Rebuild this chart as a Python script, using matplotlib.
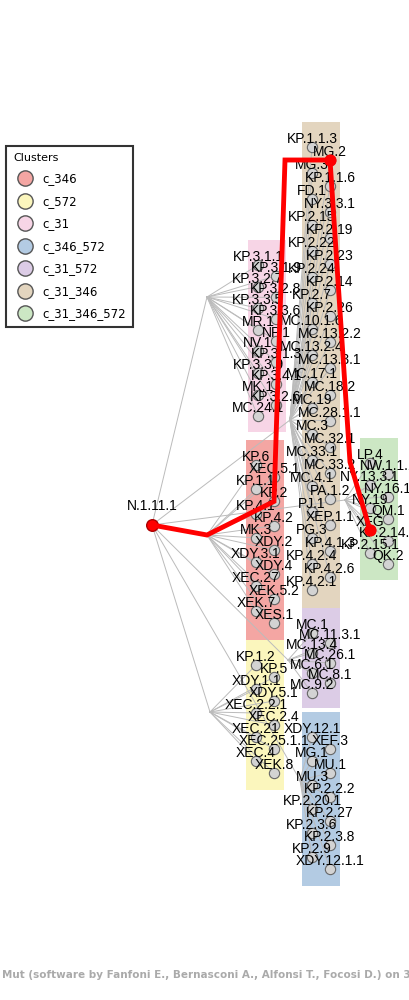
import matplotlib.pyplot as plt
from matplotlib.patches import Rectangle
from matplotlib.lines import Line2D

W, H = 410, 1000

cluster_names = ["c_346", "c_572", "c_31", "c_346_572", "c_31_572", "c_31_346", "c_31_346_572"]
cluster_colors = ["#f4a6a3", "#fbf6bd", "#f7d5e6", "#b3cbe3", "#dccce6", "#e3d5bf", "#cce7c4"]

tan_nodes = ["KP.1.1.3", "MG.2", "MG.3", "KP.1.1.6", "FD.1", "NY.3.3.1", "KP.2.15", "KP.2.19",
             "KP.2.22", "KP.2.23", "KP.2.24", "KP.2.14", "KP.2.7", "KP.2.26", "MC.10.1.6",
             "MC.13.2.2", "MC.13.2.4", "MC.13.3.1", "MC.17.1", "MC.18.2", "MC.19", "MC.28.1.1",
             "MC.3", "MC.32.1", "MC.33.1", "MC.33.2", "MC.4.1", "PA.1.2", "PJ.1", "XEP.1.1",
             "PG.3", "KP.4.1.3", "KP.4.2.4", "KP.4.2.6", "KP.4.2.1"]
pink_nodes = ["KP.3.1.1", "KP.3.1.9", "KP.3.2.7", "KP.3.2.8", "KP.3.3.5", "KP.3.3.6", "MR.1",
              "NP.1", "NV.1", "KP.3.1.3", "KP.3.3.9", "KP.3.4.1", "MK.1", "KP.3.2.6", "MC.24.1"]
red_nodes = ["KP.6", "XEC.5.1", "KP.1.1", "KP.2", "KP.4.1", "KP.4.2", "MK.3", "XDY.2",
             "XDY.3.1", "XDY.4", "XEC.27", "XEK.5.2", "XEK.7", "XES.1"]
yellow_nodes = ["KP.1.2", "KP.5", "XDY.1.1", "XDY.5.1", "XEC.2.2.1", "XEC.2.4", "XEC.21",
                "XEC.25.1.1", "XEC.4", "XEK.8"]
purple_nodes = ["MC.1", "MC.11.3.1", "MC.13.4", "MC.26.1", "MC.6.1", "MC.8.1", "MC.9.2"]
blue_nodes = ["XDY.12.1", "XEF.3", "MG.1", "MU.1", "MU.3", "KP.2.2.2", "KP.2.20.1", "KP.2.27",
              "KP.2.3.6", "KP.2.3.8", "KP.2.9", "XDY.12.1.1"]
green_nodes = ["LP.4", "NW.1.1.1", "NY.13.3.1", "NY.16.1", "NY.19", "QM.1", "XFG",
               "KP.2.14.1", "KP.2.15.1", "QK.2"]

root_label = "N.1.11.1"
path_nodes = ["KP.2", "MG.2", "XFG"]

fig = plt.figure(figsize=(W / 100, H / 100), dpi=100)
ax = fig.add_axes([0, 0, 1, 1])
ax.set_xlim(0, W)
ax.set_ylim(H, 0)
ax.axis("off")

# column layout: (nodes, colour idx, x0, y0, y1, hub)
columns = [
    (pink_nodes, 2, 248, 240, 432, (207, 297)),
    (red_nodes, 0, 246, 440, 640, (207, 535)),
    (yellow_nodes, 1, 246, 640, 790, (210, 712)),
    (tan_nodes, 5, 302, 122, 608, (290, 420)),
    (purple_nodes, 4, 302, 608, 708, (288, 660)),
    (blue_nodes, 3, 302, 712, 886, (300, 780)),
    (green_nodes, 6, 360, 438, 580, (345, 500)),
]
root = (152, 525)
pos = {}
for nodes, ci, x0, y0, y1, hub in columns:
    ax.add_patch(Rectangle((x0, y0), 38, y1 - y0, color=cluster_colors[ci], zorder=0, lw=0))
    step = (y1 - y0 - 30) / len(nodes)
    for i, n in enumerate(nodes):
        x = x0 + (10 if i % 2 == 0 else 28)
        y = y0 + 25 + i * step
        pos[n] = (x, y)
        ax.plot([hub[0], x], [hub[1], y], color="#bbbbbb", lw=0.7, zorder=1)
    ax.plot([root[0], hub[0]], [root[1], hub[1]], color="#bbbbbb", lw=0.7, zorder=1)

for n, (x, y) in pos.items():
    ax.scatter(x, y, s=55, color="#d3d3d3", edgecolor="#666666", lw=0.8, zorder=3)
    ax.text(x, y - 8, n, fontsize=10, ha="center", va="center", zorder=4,
            family="Liberation Sans")

ax.scatter(*root, s=70, color="red", edgecolor="#aa0000", zorder=5)
ax.text(root[0], root[1] - 15, root_label, fontsize=10, ha="center", family="Liberation Sans")

# red path: root -> hub -> KP.2 -> bend -> MG.2 -> bend -> XFG
red_hub = columns[1][5]
p_kp2, p_mg2, p_xfg = (pos[n] for n in path_nodes)
px = [root[0], red_hub[0], p_kp2[0], 285, p_mg2[0], 350, p_xfg[0]]
py = [root[1], red_hub[1], p_kp2[1], 160, p_mg2[1], 462, p_xfg[1]]
ax.plot(px, py, color="red", lw=3.5, zorder=6, solid_joinstyle="miter")
ax.scatter(p_mg2[0], p_mg2[1], s=60, color="red", zorder=7)
ax.scatter(p_xfg[0], p_xfg[1], s=60, color="red", zorder=7)

handles = [Line2D([], [], marker="o", ls="", markersize=11, markerfacecolor=c,
                  markeredgecolor="#555555") for c in cluster_colors]
leg = ax.legend(handles, cluster_names, title="Clusters", loc="upper left",
                bbox_to_anchor=(0.0, 0.86), frameon=True, fancybox=False,
                edgecolor="black", fontsize=8.5, title_fontsize=8, labelspacing=0.8,
                borderpad=0.6, handletextpad=0.5)
leg._legend_box.align = "left"
leg.get_frame().set_linewidth(1.5)

ax.text(2, 975, "Mut (software by Fanfoni E., Bernasconi A., Alfonsi T., Focosi D.) on 31-0",
        fontsize=7.5, color="#aaaaaa", fontweight="bold", ha="left", va="center")

fig.savefig("out.png", dpi=100)
